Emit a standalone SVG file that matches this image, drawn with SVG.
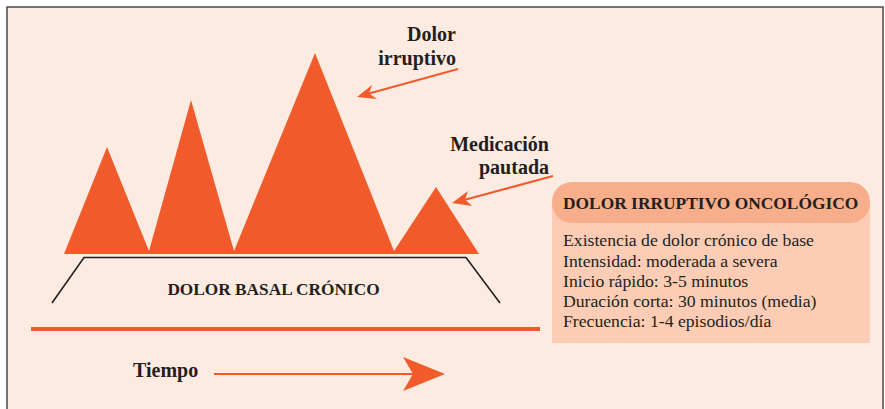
<svg xmlns="http://www.w3.org/2000/svg" width="885" height="409" viewBox="0 0 885 409">
<style>
  .lbl { font-family: "Liberation Serif", "Times New Roman", serif; fill: #231f20; }
  .b { font-weight: bold; }
  .orange { fill: #f15b2c; }
  .conn { stroke: #f15b2c; stroke-width: 2; fill: none; }
</style>
<rect x="0" y="0" width="885" height="409" fill="#ffffff"/>
<rect x="7" y="7" width="876" height="420" fill="#fdebe1" stroke="#4a4a4a" stroke-width="1.5"/>

<g id="peaks">
  <polygon class="orange" points="64,254 107,147 149,251 191,100 234,251 315,53 394,251 436,187 479,254"/>
</g>

<g id="basal">
  <polyline points="52,303 84,257.5 466,257.5 500,303" fill="none" stroke="#231f20" stroke-width="1.6"/>
  <text class="lbl b" x="273.5" y="295" font-size="17.3" text-anchor="middle">DOLOR BASAL CRÓNICO</text>
</g>

<g id="timeline">
  <rect x="31" y="327" width="509" height="4" class="orange"/>
</g>

<g id="label-dolor">
  <text class="lbl b" font-size="20" text-anchor="end"><tspan x="456" y="41">Dolor</tspan><tspan x="456" y="65">irruptivo</tspan></text>
</g>

<g id="label-medicacion">
  <text class="lbl b" font-size="20" text-anchor="end"><tspan x="549" y="151">Medicación</tspan><tspan x="549" y="174">pautada</tspan></text>
</g>

<g id="label-tiempo">
  <text class="lbl b" x="133" y="377" font-size="20">Tiempo</text>
</g>

<g id="info-box">
  <rect x="552" y="202" width="318" height="141" fill="#fccdb4"/>
  <rect x="552" y="182" width="318" height="41" rx="20" ry="20" fill="#f8ae8b"/>
  <text class="lbl b" x="563" y="209" font-size="17.4">DOLOR IRRUPTIVO ONCOLÓGICO</text>
  <text class="lbl" font-size="17.7">
    <tspan x="563" y="246">Existencia de dolor crónico de base</tspan>
    <tspan x="563" y="267">Intensidad: moderada a severa</tspan>
    <tspan x="563" y="287">Inicio rápido: 3-5 minutos</tspan>
    <tspan x="563" y="307">Duración corta: 30 minutos (media)</tspan>
    <tspan x="563" y="327">Frecuencia: 1-4 episodios/día</tspan>
  </text>
</g>

<g id="connectors">
  <line class="conn" x1="458" y1="69" x2="369" y2="93.5"/>
  <polygon class="orange" points="357,97 372,85 369,93.5 377,99"/>
  <line class="conn" x1="553" y1="176" x2="464" y2="200"/>
  <polygon class="orange" points="452,203 468,191 465,199.5 472,206"/>
  <line class="conn" x1="214" y1="374" x2="414" y2="374"/>
  <polygon class="orange" points="445,374 403,357 413,374 403,391"/>
</g>
</svg>
